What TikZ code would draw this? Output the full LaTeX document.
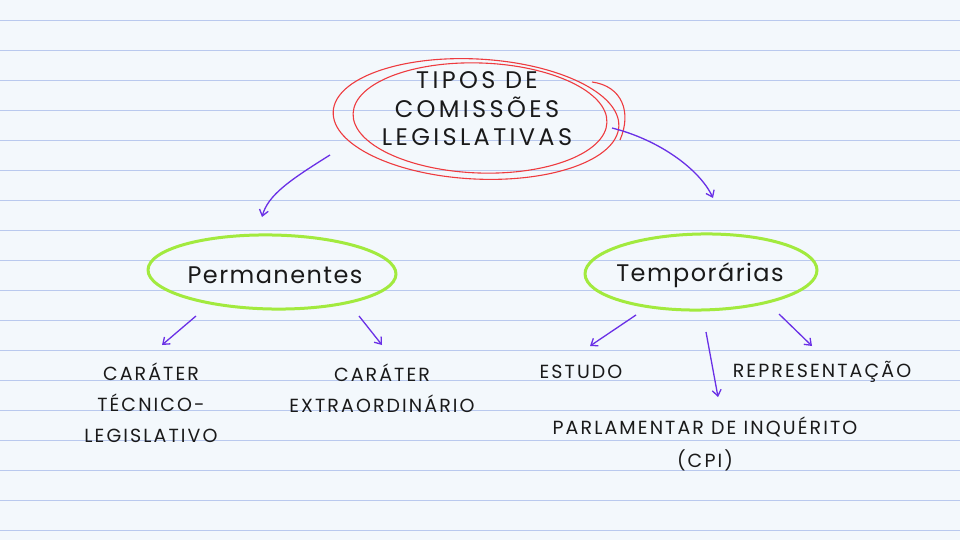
\documentclass[tikz,border=0pt]{standalone}
\usepackage{fontspec}
\setmainfont{Poppins}
\newfontfamily\wideA[LetterSpace=14]{Poppins}
\newfontfamily\wideB[LetterSpace=11]{Poppins}
\newfontfamily\wideC[LetterSpace=6]{Poppins}
\usetikzlibrary{arrows.meta}
\definecolor{paper}{HTML}{F3F8FC}
\definecolor{rule}{HTML}{B9C9EE}
\definecolor{arrowc}{HTML}{6A30E6}
\definecolor{ringred}{HTML}{EE3B3F}
\definecolor{ringgreen}{HTML}{A2EA3E}
\definecolor{ink}{HTML}{1A1A1A}
\tikzset{
  conn/.style={draw=arrowc, line width=1.3pt, -{Straight Barb[length=6pt,width=9pt]}},
  lbl/.style={text=ink, font=\wideB\fontsize{19}{20}\selectfont, align=center, inner sep=0pt},
  head/.style={text=ink, font=\wideA\fontsize{24}{28.5}\selectfont, align=center, inner sep=0pt},
  catl/.style={text=ink, font=\wideC\fontsize{24}{26}\selectfont, inner sep=0pt},
  redring/.style={draw=ringred, line width=1.1pt},
  greenring/.style={draw=ringgreen, line width=3pt},
}
\begin{document}
\begin{tikzpicture}[x=1pt,y=-1pt]
\fill[paper] (0,0) rectangle (960,540);
\useasboundingbox (0,0) rectangle (960,540);
\foreach \yy in {20,50,...,530} \draw[rule, line width=0.8pt] (0,\yy) -- (960,\yy);
% title
\node[head] (title) at (477,109) {TIPOS DE\\COMISSÕES\\LEGISLATIVAS};
\draw[redring, rotate around={-3:(476,119)}] (476,119) ellipse [x radius=143, y radius=60];
\draw[redring, rotate around={-2:(480,118)}] (480,118) ellipse [x radius=127, y radius=55];
\draw[redring] (592,82) .. controls (622,86) and (632,112) .. (620,140);
% categories
\node[catl] (perm) at (275,275) {Permanentes};
\draw[greenring, rotate around={-1:(272,272)}] (272,272) ellipse [x radius=124, y radius=37];
\node[catl] (temp) at (700,275) {Temporárias};
\draw[greenring, rotate around={1:(701,272)}] (701,272) ellipse [x radius=116, y radius=38];
% leaves
\node[lbl] (tec) at (151,403) {CARÁTER\\[11pt]TÉCNICO-\\[11pt]LEGISLATIVO};
\node[lbl] (ext) at (382,388) {CARÁTER\\[11pt]EXTRAORDINÁRIO};
\node[lbl] (est) at (581,372) {ESTUDO};
\node[lbl] (rep) at (822,372) {REPRESENTAÇÃO};
\node[lbl] (cpi) at (705,444) {PARLAMENTAR DE INQUÉRITO\\[11pt](CPI)};
% arrow anchors
\coordinate (a1) at (330,155); \coordinate (b1) at (262,217);
\coordinate (a2) at (612,128); \coordinate (b2) at (713,198);
\coordinate (a3) at (196,316); \coordinate (b3) at (162,345);
\coordinate (a4) at (359,316); \coordinate (b4) at (382,345);
\coordinate (a5) at (636,315); \coordinate (b5) at (590,346);
\coordinate (a6) at (706,332); \coordinate (b6) at (718,397);
\coordinate (a7) at (779,314); \coordinate (b7) at (812,346);
\draw[conn] (a1) .. controls (290,180) and (268,195) .. (b1);
\draw[conn] (a2) .. controls (660,140) and (700,170) .. (b2);
\draw[conn] (a3) -- (b3);
\draw[conn] (a4) -- (b4);
\draw[conn] (a5) -- (b5);
\draw[conn] (a6) -- (b6);
\draw[conn] (a7) -- (b7);
\end{tikzpicture}
\end{document}
